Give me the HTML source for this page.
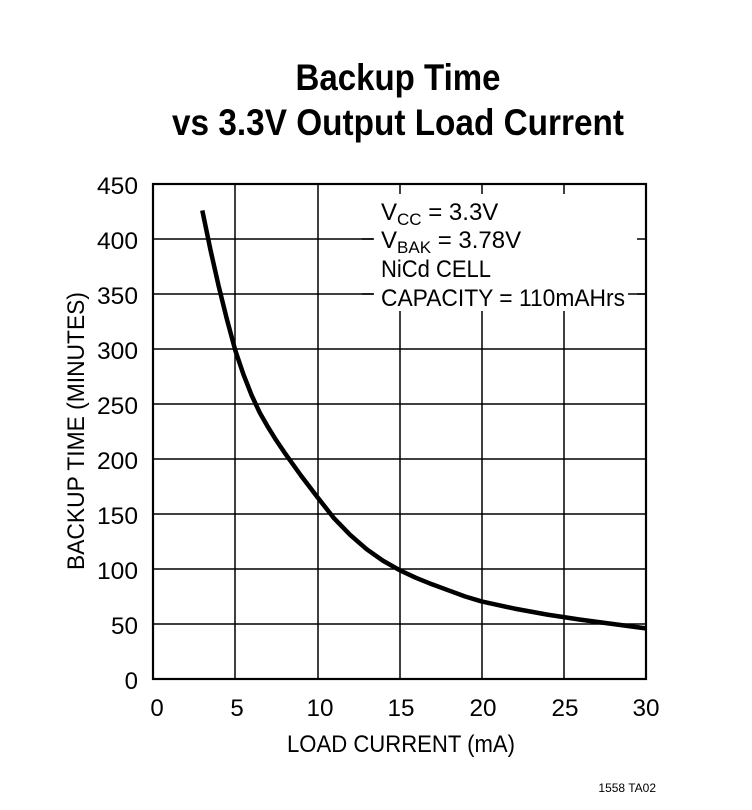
<!DOCTYPE html>
<html><head><style>body{margin:0;background:#fff}svg{display:block}</style></head><body>
<svg width="752" height="810" viewBox="0 0 752 810" xmlns="http://www.w3.org/2000/svg" font-family="Liberation Sans, sans-serif">
<rect width="752" height="810" fill="#fff"/>
<text x="398" y="90" text-anchor="middle" font-size="37" font-weight="bold" textLength="205" lengthAdjust="spacingAndGlyphs">Backup Time</text>
<text x="398" y="135" text-anchor="middle" font-size="37" font-weight="bold" textLength="452" lengthAdjust="spacingAndGlyphs">vs 3.3V Output Load Current</text>
<g stroke="#000" stroke-width="1.5">
<line x1="235" y1="184" x2="235" y2="679"/><line x1="318" y1="184" x2="318" y2="679"/>
<line x1="400" y1="184" x2="400" y2="679"/><line x1="482" y1="184" x2="482" y2="679"/>
<line x1="564" y1="184" x2="564" y2="679"/>
<line x1="153" y1="239" x2="646" y2="239"/><line x1="153" y1="294" x2="646" y2="294"/>
<line x1="153" y1="349" x2="646" y2="349"/><line x1="153" y1="404" x2="646" y2="404"/>
<line x1="153" y1="459" x2="646" y2="459"/><line x1="153" y1="514" x2="646" y2="514"/>
<line x1="153" y1="569" x2="646" y2="569"/><line x1="153" y1="624" x2="646" y2="624"/>
</g>
<rect x="373" y="194" width="264" height="117" fill="#fff"/>
<rect x="153" y="184" width="493" height="495" fill="none" stroke="#000" stroke-width="2.2"/>
<polyline fill="none" stroke="#000" stroke-width="4.5" stroke-linejoin="round" points="202.3,210.4 210.5,250 218.7,286.3 226.9,319.3 235.2,350.1 243.4,374.3 251.6,395.2 259.8,412.8 268.0,427.1 276.2,440.3 284.4,452.4 300.9,475.5 317.3,497 333.7,517.9 350.2,534.9 366.6,549.2 383.0,560.75 399.5,570.1 415.9,577.8 432.3,584.4 448.7,590.45 465.2,596.5 481.6,601.45 514.5,608.6 547.3,614.65 580.2,619.6 613.0,624 645.9,628.4"/>
<g font-size="24" text-anchor="end">
<text x="138" y="194" textLength="41" lengthAdjust="spacingAndGlyphs">450</text><text x="138" y="249" textLength="41" lengthAdjust="spacingAndGlyphs">400</text><text x="138" y="304" textLength="41" lengthAdjust="spacingAndGlyphs">350</text>
<text x="138" y="359" textLength="41" lengthAdjust="spacingAndGlyphs">300</text><text x="138" y="414" textLength="41" lengthAdjust="spacingAndGlyphs">250</text><text x="138" y="469" textLength="41" lengthAdjust="spacingAndGlyphs">200</text>
<text x="138" y="524" textLength="41" lengthAdjust="spacingAndGlyphs">150</text><text x="138" y="579" textLength="41" lengthAdjust="spacingAndGlyphs">100</text><text x="138" y="634" textLength="27" lengthAdjust="spacingAndGlyphs">50</text>
<text x="138" y="689">0</text>
</g>
<g font-size="24" text-anchor="middle">
<text x="157" y="716">0</text><text x="237" y="716">5</text><text x="320" y="716" textLength="27" lengthAdjust="spacingAndGlyphs">10</text>
<text x="401" y="716" textLength="27" lengthAdjust="spacingAndGlyphs">15</text><text x="483" y="716" textLength="27" lengthAdjust="spacingAndGlyphs">20</text><text x="565" y="716" textLength="27" lengthAdjust="spacingAndGlyphs">25</text>
<text x="646" y="716" textLength="27" lengthAdjust="spacingAndGlyphs">30</text>
</g>
<text x="401" y="752" font-size="24" text-anchor="middle" textLength="228" lengthAdjust="spacingAndGlyphs">LOAD CURRENT (mA)</text>
<text transform="translate(84,431) rotate(-90)" font-size="24" text-anchor="middle" textLength="278" lengthAdjust="spacingAndGlyphs">BACKUP TIME (MINUTES)</text>
<g font-size="24">
<text x="381" y="220">V<tspan font-size="17" dy="5">CC</tspan><tspan dy="-5"> = 3.3V</tspan></text>
<text x="381" y="248">V<tspan font-size="17" dy="5">BAK</tspan><tspan dy="-5"> = 3.78V</tspan></text>
<text x="381" y="277" textLength="110" lengthAdjust="spacingAndGlyphs">NiCd CELL</text>
<text x="381" y="306" textLength="244" lengthAdjust="spacingAndGlyphs">CAPACITY = 110mAHrs</text>
</g>
<line x1="362" y1="239" x2="374" y2="239" stroke="#000" stroke-width="1.5"/>
<line x1="362" y1="294" x2="374" y2="294" stroke="#000" stroke-width="1.5"/>
<line x1="628" y1="294" x2="646" y2="294" stroke="#000" stroke-width="1.5"/>
<text x="656" y="792" font-size="12" text-anchor="end">1558 TA02</text>
</svg>
</body></html>
